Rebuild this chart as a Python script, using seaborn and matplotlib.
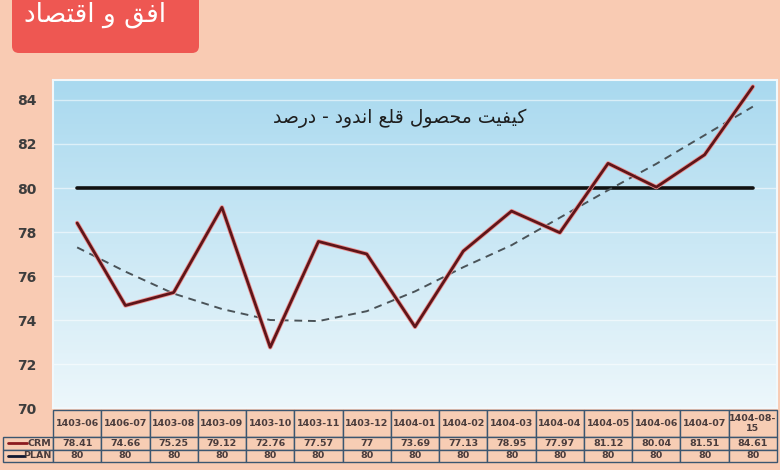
import numpy as np
import pandas as pd
import seaborn as sns
import matplotlib
matplotlib.use('Agg')
import matplotlib.pyplot as plt
import matplotlib.patheffects as pe
from matplotlib.patches import FancyBboxPatch
from matplotlib.lines import Line2D
from matplotlib.colors import LinearSegmentedColormap

# data
periods = ['1403-06', '1406-07', '1403-08', '1403-09', '1403-10', '1403-11', '1403-12',
           '1404-01', '1404-02', '1404-03', '1404-04', '1404-05', '1404-06', '1404-07',
           '1404-08-\n15']
crm = [78.41, 74.66, 75.25, 79.12, 72.76, 77.57, 77, 73.69, 77.13, 78.95, 77.97,
       81.12, 80.04, 81.51, 84.61]
crm_labels = ['78.41', '74.66', '75.25', '79.12', '72.76', '77.57', '77', '73.69',
              '77.13', '78.95', '77.97', '81.12', '80.04', '81.51', '84.61']
plan = [80] * 15
plan_labels = ['80'] * 15
trend = [77.3, 76.2, 75.2, 74.5, 74.0, 73.95, 74.4, 75.3, 76.4, 77.4, 78.65, 79.9,
         81.1, 82.4, 83.7]
y_ticks = [70, 72, 74, 76, 78, 80, 82, 84]

title_text = 'کیفیت محصول قلع اندود - درصد'
logo_text = 'افق و اقتصاد'

# minimal arabic/persian shaping (matplotlib has no shaping engine)
# (isolated, final, initial, medial)
FORMS = {
    'ا': ('\uFE8D', '\uFE8E', None, None),
    'د': ('\uFEA9', '\uFEAA', None, None),
    'ر': ('\uFEAD', '\uFEAE', None, None),
    'و': ('\uFEED', '\uFEEE', None, None),
    'ت': ('\uFE95', '\uFE96', '\uFE97', '\uFE98'),
    'ح': ('\uFEA1', '\uFEA2', '\uFEA3', '\uFEA4'),
    'ص': ('\uFEB9', '\uFEBA', '\uFEBB', '\uFEBC'),
    'ع': ('\uFEC9', '\uFECA', '\uFECB', '\uFECC'),
    'ف': ('\uFED1', '\uFED2', '\uFED3', '\uFED4'),
    'ق': ('\uFED5', '\uFED6', '\uFED7', '\uFED8'),
    'ل': ('\uFEDD', '\uFEDE', '\uFEDF', '\uFEE0'),
    'م': ('\uFEE1', '\uFEE2', '\uFEE3', '\uFEE4'),
    'ن': ('\uFEE5', '\uFEE6', '\uFEE7', '\uFEE8'),
    'ک': ('\uFB8E', '\uFB8F', '\uFB90', '\uFB91'),
    'ی': ('\uFBFC', '\uFBFD', '\uFBFE', '\uFBFF'),
}

def shape(text):
    out = []
    for k, c in enumerate(text):
        if c not in FORMS:
            out.append(c)
            continue
        iso, fin, ini, med = FORMS[c]
        prev = text[k - 1] if k > 0 else None
        nxt = text[k + 1] if k + 1 < len(text) else None
        join_prev = prev in FORMS and FORMS[prev][2] is not None
        join_next = ini is not None and nxt in FORMS
        if join_prev and join_next:
            out.append(med)
        elif join_prev:
            out.append(fin)
        elif join_next:
            out.append(ini)
        else:
            out.append(iso)
    return ''.join(reversed(out))

sns.set_theme(style='white')
plt.rcParams['font.family'] = ['DejaVu Sans']

BG = '#F9CBB3'
W, H = 780, 470
fig = plt.figure(figsize=(W / 100, H / 100), dpi=100, facecolor=BG)

ax = fig.add_axes([53 / W, 1 - 408 / H, (777 - 53) / W, (408 - 80) / H])
grad = LinearSegmentedColormap.from_list('sky', ['#EDF7FB', '#A9D9EF'])
ax.imshow(np.linspace(0, 1, 256).reshape(-1, 1), cmap=grad, origin='lower',
          extent=[0, 1, 0, 1], transform=ax.transAxes, aspect='auto', zorder=0)

df = pd.DataFrame({'idx': range(len(periods)), 'CRM': crm, 'PLAN': plan, 'trend': trend})

sns.lineplot(data=df, x='idx', y='PLAN', ax=ax, color='#111111', lw=2.6, zorder=3)
sns.lineplot(data=df, x='idx', y='trend', ax=ax, color='#4A5358', lw=1.4,
             linestyle=(0, (4, 3)), zorder=4)
sns.lineplot(data=df, x='idx', y='CRM', ax=ax, color='#5E1519', lw=2.0, zorder=5,
             path_effects=[pe.Stroke(linewidth=3.2, foreground='#EE9090'), pe.Normal()])

ax.set_xlim(-0.5, len(periods) - 0.5)
ax.set_ylim(70, 84 + 20 / 22)
ax.set_yticks(y_ticks)
ax.set_xticks([])
ax.set_xlabel('')
ax.set_ylabel('')
ax.grid(axis='y', color='white', alpha=0.55, lw=1)
ax.tick_params(axis='y', length=0, pad=12, labelsize=10, labelcolor='#3D3D3D')
for lab in ax.get_yticklabels():
    lab.set_fontweight('bold')
for sp in ax.spines.values():
    sp.set_color('#F2F8FB')
    sp.set_linewidth(1.5)

ax.text((400 - 53) / 724, (408 - 118) / 328, shape(title_text), transform=ax.transAxes,
        ha='center', va='center', fontsize=13.5, color='#1E1E1E', zorder=6)

# data table under the chart
ax_t = fig.add_axes([3 / W, 1 - 462 / H, (777 - 3) / W, (462 - 410) / H])
ax_t.axis('off')
cell_text = [[''] + periods, ['CRM'] + crm_labels, ['PLAN'] + plan_labels]
tbl = ax_t.table(cellText=cell_text, cellLoc='center', bbox=[0, 0, 1, 1])
tbl.auto_set_font_size(False)
tbl.set_fontsize(6.8)
for (r, c), cell in tbl.get_celld().items():
    cell.set_width(50 if c == 0 else 48.27)
    cell.set_height(27 if r == 0 else 12.5)
    cell.set_facecolor('#F7CDB4')
    cell.set_edgecolor('#3B5670')
    cell.set_linewidth(1)
    cell.get_text().set_fontweight('bold')
    cell.get_text().set_color('#4A3C3C')
    if c == 0:
        cell._loc = 'right'
        cell.PAD = 0.03
        cell.get_text().set_ha('right')
tbl[0, 0].set_visible(False)

fig.add_artist(Line2D([8 / W, 27 / W], [1 - 443 / H] * 2, color='#8B1A1E', lw=2))
fig.add_artist(Line2D([8 / W, 24 / W], [1 - 455.5 / H] * 2, color='#101830', lw=2))

# logo box
logo = FancyBboxPatch((12 / W, 1 - 53 / H), (199 - 12) / W, 70 / H,
                      boxstyle='round,pad=0,rounding_size=%f' % (7 / W),
                      mutation_aspect=W / H, transform=fig.transFigure,
                      facecolor='#EE5752', edgecolor='none')
fig.add_artist(logo)
fig.text(95 / W, 1 - 15 / H, shape(logo_text), color='white', fontsize=19,
         ha='center', va='center')

fig.savefig('out.png', dpi=100, facecolor=BG)
